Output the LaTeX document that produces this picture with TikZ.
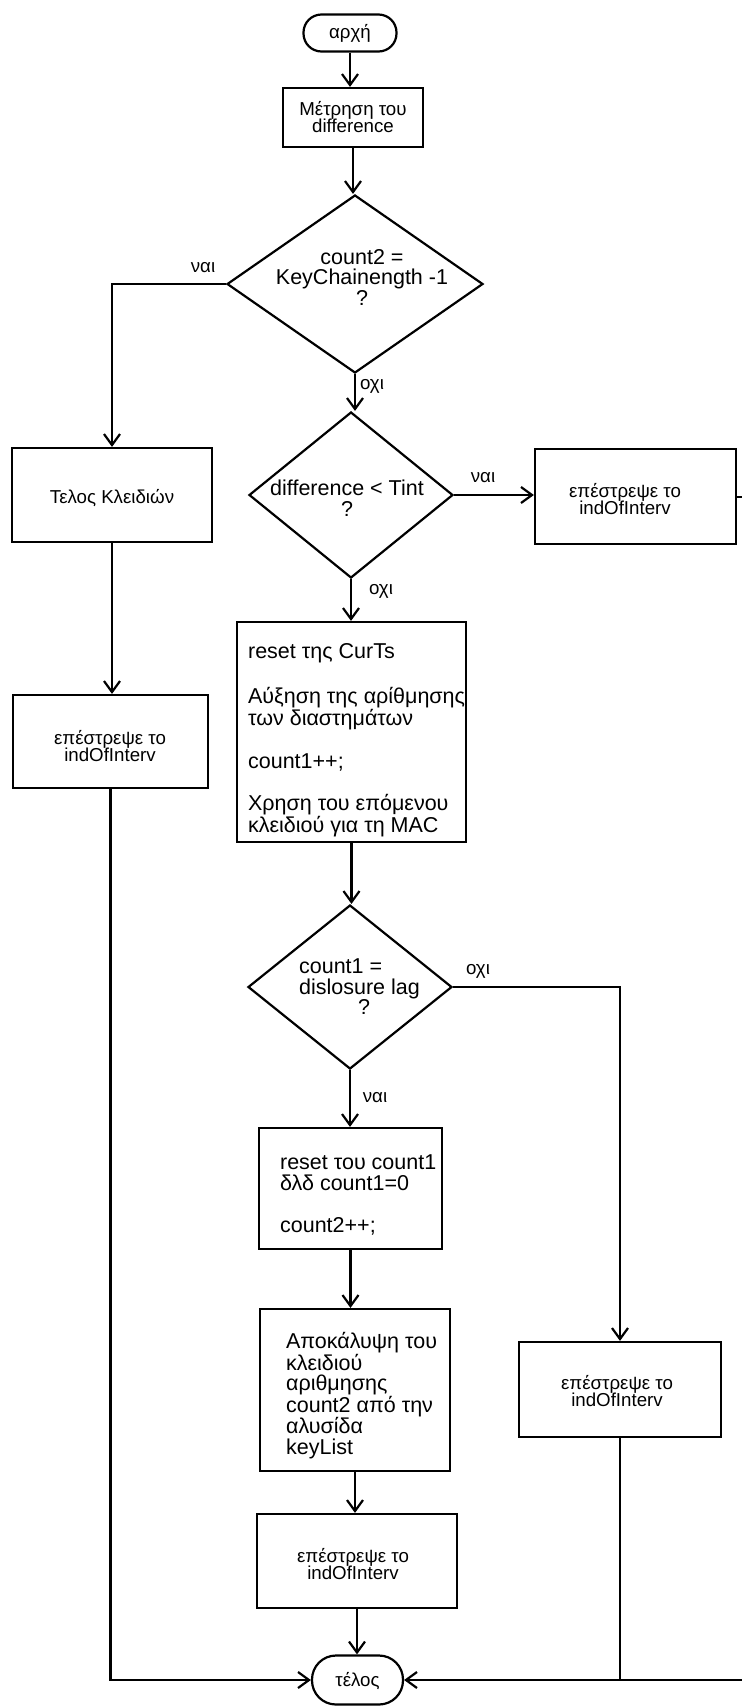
\documentclass[tikz,border=0pt]{standalone}
\usepackage{fontspec}
\setmainfont{Liberation Sans}
\usetikzlibrary{arrows.meta,shapes.geometric}
\begin{document}
\begin{tikzpicture}[x=1pt,y=-1pt,line width=2.2pt,
  box/.style={draw,rectangle,inner sep=0pt},
  term/.style={draw,rectangle,inner sep=0pt},
  dec/.style={draw,diamond,inner sep=0pt},
  big/.style={font=\fontsize{21.5}{20.5}\selectfont,inner sep=0pt},
  small/.style={font=\fontsize{18.7}{17.5}\selectfont,inner sep=0pt},
  arr/.style={-{Straight Barb[length=11pt,width=16pt]}},
]
\fill[white] (0,0) rectangle (742,1706);
\useasboundingbox (0,0) rectangle (742,1706);

% shapes
\node[term,rounded corners=18pt,minimum width=93pt,minimum height=37pt] (start) at (350,33) {};
\node[box,minimum width=140pt,minimum height=59pt] (meas) at (353,117.5) {};
\node[dec,minimum width=256pt,minimum height=178pt] (q1) at (355,284) {};
\node[box,minimum width=200pt,minimum height=94pt] (keysend) at (112,495) {};
\node[dec,minimum width=204pt,minimum height=166pt] (q2) at (351,495) {};
\node[box,minimum width=201pt,minimum height=95pt] (retA) at (635.5,496.5) {};
\node[box,minimum width=229pt,minimum height=220pt] (reset) at (351.5,732) {};
\node[box,minimum width=195pt,minimum height=93pt] (retL) at (110.5,741.5) {};
\node[dec,minimum width=204pt,minimum height=164pt] (q3) at (350,987) {};
\node[box,minimum width=183pt,minimum height=121pt] (rstc) at (350.5,1188.5) {};
\node[box,minimum width=190pt,minimum height=162pt] (reveal) at (355,1390) {};
\node[box,minimum width=202pt,minimum height=95pt] (retB) at (620,1389.5) {};
\node[box,minimum width=200pt,minimum height=94pt] (retC) at (357,1561) {};
\node[term,rounded corners=24pt,minimum width=91pt,minimum height=49pt] (stop) at (357.5,1680) {};

% texts
\node[small] (tstart) at (350,33) {αρχή};
\node[small,align=center] (tmeas) at (353,117) {Μέτρηση του\\difference};
\node[big,align=center] (tq1) at (362,277) {count2 =\\KeyChainength -1\\?};
\node[small] (tkeys) at (112,498) {Τελος Κλειδιών};
\node[big,align=center] (tq2) at (347,498) {difference < Tint\\?};
\node[small,align=center] (tretA) at (625,499) {επέστρεψε το\\indOfInterv};
\node[big,align=left,anchor=west,font=\fontsize{21.5}{19.5}\selectfont] (treset) at (247,740)
  {reset της CurTs\\[24pt]Αύξηση της αρίθμησης\\των διαστημάτων\\[23pt]count1++;\\[23pt]Χρηση του επόμενου\\κλειδιού για τη MAC};
\node[small,align=center] (tretL) at (110,746) {επέστρεψε το\\indOfInterv};
\node[big,align=left,anchor=west] (tq3) at (298,987) {count1 =\\dislosure lag\\\hspace*{59pt}?};
\node[big,align=left,anchor=west] (trstc) at (279,1195) {reset του count1\\δλδ count1=0\\[22pt]count2++;};
\node[big,align=left,anchor=west] (treveal) at (285,1395.5)
  {Αποκάλυψη του\\κλειδιού\\αριθμησης\\count2 από την\\αλυσίδα\\keyList};
\node[small,align=center] (tretB) at (617,1391) {επέστρεψε το\\indOfInterv};
\node[small,align=center] (tretC) at (353,1564) {επέστρεψε το\\indOfInterv};
\node[small] (tstop) at (357.5,1681) {τέλος};

% branch labels
\node[small] (yes1) at (203,268) {ναι};
\node[small] (no1) at (372,386) {οχι};
\node[small] (yes2) at (483,478) {ναι};
\node[small] (no2) at (381,591) {οχι};
\node[small] (no3) at (478,971) {οχι};
\node[small] (yes3) at (375,1098) {ναι};

% open ends running past the right border
\coordinate (outA) at (742,497);
\coordinate (outB) at (742,1680);

% connectors
\draw[arr] (start.south) -- (start.south |- meas.north);
\draw[arr] (meas.south) -- (meas.south |- q1.north);
\draw[arr] (q1.west) -| (keysend.north);
\draw[arr] (q1.south) -- (q1.south |- q2.north);
\draw[arr] (q2.east) -- (q2.east -| retA.west);
\draw (retA.east |- outA) -- (outA);
\draw[arr] (q2.south) -- (q2.south |- reset.north);
\draw[arr] (keysend.south) -- (keysend.south |- retL.north);
\draw[arr] (reset.south) -- (reset.south |- q3.north);
\draw[arr] (q3.east) -| (retB.north);
\draw[arr] (q3.south) -- (q3.south |- rstc.north);
\draw[arr] (rstc.south) -- (rstc.south |- reveal.north);
\draw[arr] (reveal.south) -- (reveal.south |- retC.north);
\draw[arr] (retC.south) -- (retC.south |- stop.north);
\draw[arr] (retL.south) |- (stop.west);
\draw[arr] (retB.south) |- (stop.east);
\draw (retB.south |- stop.east) -- (outB);
\end{tikzpicture}
\end{document}
